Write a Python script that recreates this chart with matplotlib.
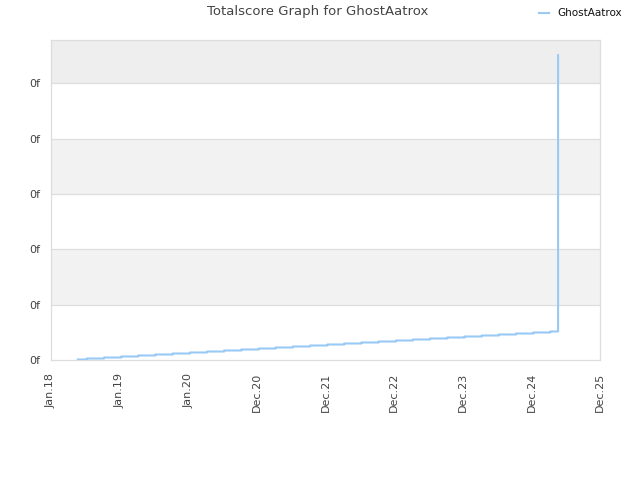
import matplotlib
matplotlib.use("Agg")
import matplotlib.pyplot as plt
import matplotlib.dates as mdates
from matplotlib.ticker import FixedLocator, FuncFormatter
import datetime as dt

player = "GhostAatrox"
dates = ["2018-05-24", "2018-07-10", "2018-10-10",
         "2019-01-10", "2019-04-10", "2019-07-10", "2019-10-10",
         "2020-01-10", "2020-04-10", "2020-07-10", "2020-10-10",
         "2021-01-10", "2021-04-10", "2021-07-10", "2021-10-10",
         "2022-01-10", "2022-04-10", "2022-07-10", "2022-10-10",
         "2023-01-10", "2023-04-10", "2023-07-10", "2023-10-10",
         "2024-01-10", "2024-04-10", "2024-07-10", "2024-10-10",
         "2025-01-10", "2025-04-10", "2025-05-21", "2025-05-21"]
scores = [1.8, 5.4, 9.0, 12.7, 16.3, 19.9, 23.5, 27.1, 30.7, 34.4, 38.0,
          41.6, 45.2, 48.8, 52.4, 56.1, 59.7, 63.3, 66.9, 70.5, 74.1, 77.8,
          81.4, 85.0, 88.6, 92.2, 95.8, 99.5, 103.1, 103.1, 1102]
y_ticks = [0, 200, 400, 600, 800, 1000]

x = [dt.datetime.strptime(d, "%Y-%m-%d") for d in dates]
start = dt.datetime(2018, 1, 1)
x_ticks = [start + dt.timedelta(days=365 * i) for i in range(9)]

fig = plt.figure(figsize=(6.4, 4.8), dpi=100)
ax = fig.add_axes([0.0797, 0.25, 0.8578, 0.6667])

ymax = 1157
ax.set_ylim(0, ymax)
ax.set_xlim(x_ticks[0], x_ticks[-1])

# alternating bands
ax.axhspan(1000, ymax, color="#eeeeee", zorder=0, lw=0)
ax.axhspan(600, 800, color="#f2f2f2", zorder=0, lw=0)
ax.axhspan(200, 400, color="#f2f2f2", zorder=0, lw=0)
for t in y_ticks[1:]:
    ax.axhline(t, color="#dedede", lw=0.9, zorder=1)

ax.plot(x, scores, drawstyle="steps-post", color="#99c9f5", lw=1.5,
        label=player, zorder=3, snap=False)

ax.yaxis.set_major_locator(FixedLocator(y_ticks))
ax.yaxis.set_major_formatter(FuncFormatter(lambda v, p: "0f"))
ax.xaxis.set_major_locator(FixedLocator(mdates.date2num(x_ticks)))
ax.xaxis.set_major_formatter(mdates.DateFormatter("%b.%y"))
ax.tick_params(axis="both", length=0, labelsize=8, colors="#444444")
ax.tick_params(axis="y", pad=8)
ax.tick_params(axis="x", pad=9)
for lab in ax.get_xticklabels():
    lab.set_rotation(90)

for s in ax.spines.values():
    s.set_color("#dddddd")
    s.set_linewidth(0.9)

fig.text(0.497, 0.975, "Totalscore Graph for " + player, ha="center",
         va="center", fontsize=9.5, color="#444444")
leg = fig.legend(loc="upper right", bbox_to_anchor=(0.985, 1.0), frameon=False,
                 fontsize=7.5, handlelength=1.0, borderaxespad=0.4)
for t in leg.get_texts():
    t.set_color("#111111")

fig.savefig("out.png", dpi=100)
